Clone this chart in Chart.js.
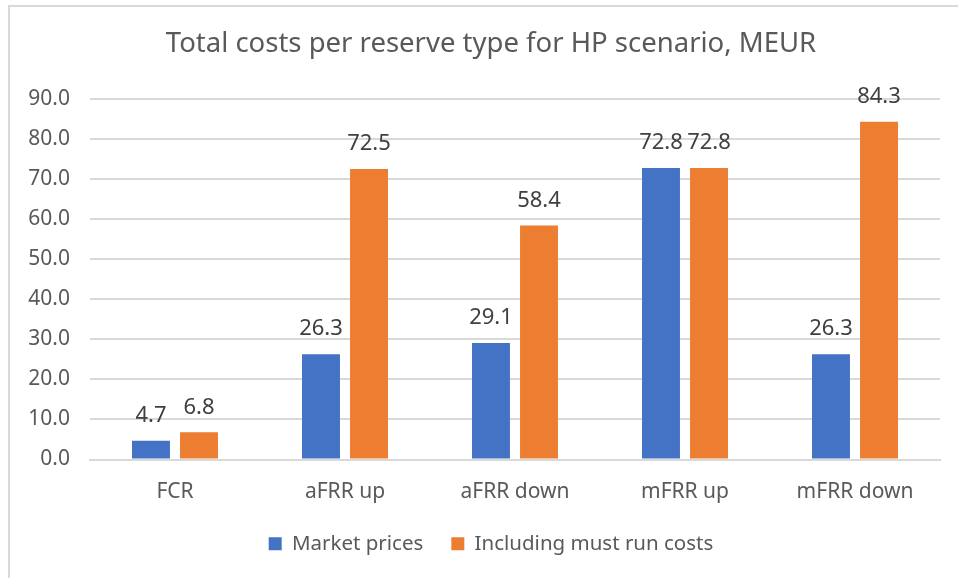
<!DOCTYPE html>
<html>
<head>
<meta charset="utf-8">
<script src="https://cdn.jsdelivr.net/npm/chart.js@4.4.0/dist/chart.umd.min.js"></script>
<style>
  html, body { margin: 0; padding: 0; background: #fff; overflow: hidden; }
  #frame {
    position: absolute; left: 8px; top: 5px; width: 1000px; height: 600px;
    border-left: 2px solid #d9d9d9; border-top: 2px solid #d9d9d9;
  }
  #wrap { position: absolute; left: 0; top: 0; width: 982px; height: 578px; }
</style>
</head>
<body>
<div id="frame"></div>
<div id="wrap"><canvas id="costChart"></canvas></div>
<script>
// ---- data ----
const categories = ['FCR', 'aFRR up', 'aFRR down', 'mFRR up', 'mFRR down'];
const marketPrices = [4.7, 26.3, 29.1, 72.8, 26.3];
const mustRunCosts = [6.8, 72.5, 58.4, 72.8, 84.3];
const seriesNames = ['Market prices', 'Including must run costs'];
const yMax = 90;
const yStep = 10;

const textColor = '#595959';
const gridColor = '#d9d9d9';
const fontFamily = '"Noto Sans", "Open Sans", sans-serif';
const tickFont = { family: fontFamily, size: 21 };

// widest y label, so mirrored labels can sit left of the plot (avoids clipping)
const measure = document.createElement('canvas').getContext('2d');
measure.font = tickFont.size + 'px ' + fontFamily;
const widestTick = measure.measureText(yMax.toFixed(1)).width;

// value labels above bars
const barLabels = {
  id: 'barLabels',
  afterDatasetsDraw(chart) {
    const ctx = chart.ctx;
    ctx.save();
    ctx.fillStyle = '#404040';
    ctx.font = '22px ' + fontFamily;
    ctx.textAlign = 'center';
    ctx.textBaseline = 'middle';
    chart.data.datasets.forEach((ds, i) => {
      chart.getDatasetMeta(i).data.forEach((bar, j) => {
        ctx.fillText(ds.data[j].toFixed(1), bar.x, bar.y - 25);
      });
    });
    ctx.restore();
  }
};

new Chart(document.getElementById('costChart'), {
  type: 'bar',
  data: {
    labels: categories,
    datasets: [
      { label: seriesNames[0], data: marketPrices, backgroundColor: '#4472C4' },
      { label: seriesNames[1], data: mustRunCosts, backgroundColor: '#ED7D31' }
    ]
  },
  options: {
    responsive: true,
    maintainAspectRatio: false,
    animation: false,
    categoryPercentage: 0.565,
    barPercentage: 0.79,
    layout: { padding: { left: 42, right: 42, top: 0, bottom: 14 } },
    plugins: {
      tooltip: { enabled: false },
      title: {
        display: true,
        text: 'Total costs per reserve type for HP scenario, MEUR',
        color: textColor,
        font: { family: fontFamily, size: 27.5, weight: 'normal' },
        padding: { top: 28, bottom: 38 }
      },
      legend: {
        position: 'bottom',
        labels: {
          color: textColor,
          font: { family: fontFamily, size: 20.5 },
          boxWidth: 13, boxHeight: 13,
          padding: 28
        }
      }
    },
    scales: {
      x: {
        grid: { display: false },
        border: { color: gridColor, width: 2 },
        ticks: { color: textColor, font: tickFont, padding: 12 },
        afterFit(scale) { scale.height = 46; }
      },
      y: {
        min: 0, max: yMax,
        grid: { color: gridColor, lineWidth: 2, drawTicks: false },
        border: { display: false },
        ticks: {
          stepSize: yStep,
          color: textColor,
          font: tickFont,
          mirror: true,
          crossAlign: 'far',
          padding: -(20 + widestTick),
          callback: v => Number(v).toFixed(1)
        },
        afterFit(scale) { scale.width = 48; }
      }
    }
  },
  plugins: [barLabels]
});
</script>
</body>
</html>
